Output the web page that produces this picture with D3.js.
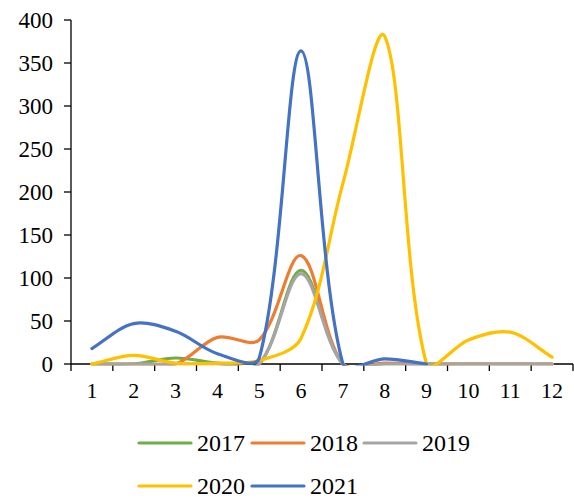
<!DOCTYPE html>
<html><head><meta charset="utf-8">
<script src="https://cdn.jsdelivr.net/npm/d3@7/dist/d3.min.js"></script>
<style>html,body{margin:0;padding:0;background:#fff;}svg{display:block;}text{font-family:'Liberation Serif', 'Times New Roman', Times, serif;}</style>
</head><body><svg id="c" width="574" height="500"></svg>
<script>
const categories = ["1","2","3","4","5","6","7","8","9","10","11","12"];
const yTicks = [0,50,100,150,200,250,300,350,400];
const seriesNames = ["2017","2018","2019","2020","2021"];
const seriesColors = ["#70AD47","#ED7D31","#A5A5A5","#FFC000","#4472C4"];
const s2017 = [0,0,7,1,0,109,0,0,0,0,0,0];
const s2018 = [0,0,0,31,28,126,0,1,0,0,0,0];
const s2019 = [0,0,0,0,0,105,0,0,0,0,0,0];
const s2020 = [0,10,1,1,4,30,210,381,0,28,37,8];
const s2021 = [18,47,38,12,7,364,0,6,0,null,null,null];
const allSeries = [s2017,s2018,s2019,s2020,s2021];

const svg = d3.select("#c");
const L=71, R=573, T=20, B=364;
const x = d3.scaleBand().domain(categories).range([L,R]).padding(0);
const y = d3.scaleLinear().domain([0,400]).range([B,T]);

svg.append("defs").append("clipPath").attr("id","clip")
  .append("rect").attr("x",L).attr("y",T-2).attr("width",R-L).attr("height",B-T+3.5);

// axes
const ax = svg.append("g").attr("stroke","#000").attr("stroke-width",1.3);
ax.append("line").attr("x1",L).attr("x2",L).attr("y1",T).attr("y2",B);
ax.append("line").attr("x1",L).attr("x2",R).attr("y1",B).attr("y2",B);
ax.selectAll(".yt").data(yTicks).join("line").attr("x1",L-7).attr("x2",L)
  .attr("y1",d=>y(d)).attr("y2",d=>y(d));
const xt = categories.map((c,i)=>i).concat([categories.length]);
ax.selectAll(".xt").data(xt).join("line")
  .attr("x1",i=>L+i*x.bandwidth()).attr("x2",i=>L+i*x.bandwidth())
  .attr("y1",B).attr("y2",B+7);

svg.selectAll(".yl").data(yTicks).join("text")
  .attr("x",53).attr("y",d=>y(d)).attr("dy","0.35em").attr("text-anchor","end")
  .attr("font-size",23).attr("fill","#000").text(d=>d);
svg.selectAll(".xl").data(categories).join("text")
  .attr("x",d=>x(d)+x.bandwidth()/2).attr("y",398).attr("text-anchor","middle")
  .attr("font-size",22).attr("fill","#000").text(d=>d);

// Excel-like smoothed path (chord-proportional Bezier tangents)
function smoothPath(pts){
  const p = d3.path();
  if(!pts.length) return "";
  p.moveTo(pts[0][0],pts[0][1]);
  const n = pts.length;
  const ctrl = pts.map((P,i)=>{
    const A = pts[Math.max(0,i-1)], C = pts[Math.min(n-1,i+1)];
    const d1 = Math.hypot(P[0]-A[0],P[1]-A[1]), d2 = Math.hypot(C[0]-P[0],C[1]-P[1]);
    const tx = C[0]-A[0], ty = C[1]-A[1], s = d1+d2 || 1;
    return {
      inX: P[0]-tx*(d1/s)/3, inY: P[1]-ty*(d1/s)/3,
      outX: P[0]+tx*(d2/s)/3, outY: P[1]+ty*(d2/s)/3
    };
  });
  for(let i=1;i<n;i++){
    p.bezierCurveTo(ctrl[i-1].outX,ctrl[i-1].outY,ctrl[i].inX,ctrl[i].inY,pts[i][0],pts[i][1]);
  }
  return p.toString();
}

const g = svg.append("g").attr("clip-path","url(#clip)");
allSeries.forEach((s,k)=>{
  const pts = [];
  s.forEach((v,i)=>{ if(v!==null) pts.push([x(categories[i])+x.bandwidth()/2, y(v)]); });
  g.append("path").attr("d",smoothPath(pts)).attr("fill","none").attr("stroke",seriesColors[k])
   .attr("stroke-width",3.2).attr("stroke-linejoin","round").attr("stroke-linecap","round");
});

// legend
const legPos = [[139,443],[252,443],[364,443],[139,486],[252,486]];
seriesNames.forEach((n,k)=>{
  const [lx,ly]=legPos[k];
  svg.append("line").attr("x1",lx).attr("x2",lx+52).attr("y1",ly).attr("y2",ly)
    .attr("stroke",seriesColors[k]).attr("stroke-width",3.2).attr("stroke-linecap","round");
  svg.append("text").attr("x",lx+58).attr("y",ly).attr("dy","0.35em")
    .attr("font-size",24).attr("fill","#000").text(n);
});
</script></body></html>
